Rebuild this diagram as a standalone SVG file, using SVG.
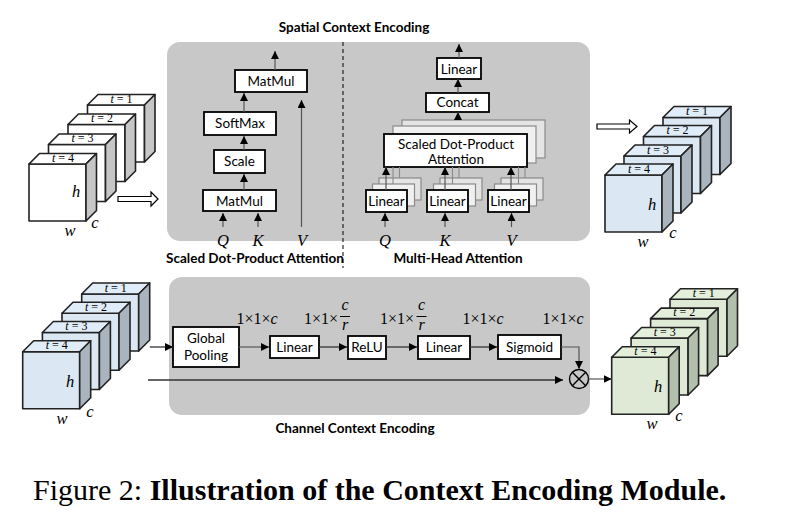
<svg xmlns="http://www.w3.org/2000/svg" width="791" height="514" viewBox="0 0 791 514">
<style>
.panel{fill:#c8c8c8;stroke:none}
.box{fill:#fff;stroke:#000;stroke-width:1.8}
.sh1{fill:#f0f0f0;stroke:#8a8a8a;stroke-width:1.2}
.sh2{fill:#e4e4e4;stroke:#8a8a8a;stroke-width:1.2}
.lbl{font-family:Lato,"Liberation Sans",sans-serif;font-size:13.5px;fill:#000;text-anchor:middle}
.ttl{font-family:Lato,"Liberation Sans",sans-serif;font-size:13.5px;font-weight:bold;fill:#000;text-anchor:middle}
.math{font-family:"Liberation Serif","DejaVu Serif",serif;font-style:italic;font-size:16.5px;fill:#000;text-anchor:middle}
.dim{font-family:"Liberation Serif","DejaVu Serif",serif;font-size:16px;fill:#000}
.tl{font-family:"Liberation Serif","DejaVu Serif",serif;font-size:12px;fill:#000;text-anchor:middle}
.cube{stroke:#222;stroke-width:1.6;stroke-linejoin:round}
.wF{fill:#fff}.wS{fill:#c6c6c6}
.bF{fill:#dbe8f4}.bT{fill:#e0ecf7}.bS{fill:#a9b4be}
.gF{fill:#deead6}.gT{fill:#e3eedb}.gS{fill:#b3bfad}
.ar{fill:none;stroke:#555;stroke-width:1.2;marker-end:url(#ah)}
.ard{fill:none;stroke:#333;stroke-width:1.3;marker-end:url(#ah)}
.gl{fill:none;stroke:#8a8a8a;stroke-width:1.1}
.hol{fill:#fff;stroke:#000;stroke-width:1.2}
</style>
<defs>
<marker id="ah" viewBox="0 0 10 10" refX="10" refY="5" markerWidth="8" markerHeight="8" markerUnits="userSpaceOnUse" orient="auto">
<path d="M0,0 L10,5 L0,10 z" fill="#000"/>
</marker>
</defs>

<!-- panels -->
<g id="spatial-panel">
<rect class="panel" x="167" y="42" width="423" height="199" rx="13"/>
<line x1="343" y1="42" x2="343" y2="268" stroke="#000" stroke-width="1" stroke-dasharray="4,3"/>
<text class="ttl" x="354" y="32">Spatial Context Encoding</text>
<text class="ttl" x="255" y="263">Scaled Dot-Product Attention</text>
<text class="ttl" x="458" y="263">Multi-Head Attention</text>
</g>
<g id="channel-panel">
<rect class="panel" x="169" y="277" width="421" height="138" rx="13"/>
<text class="ttl" x="355" y="433">Channel Context Encoding</text>
</g>

<!-- top-left input stack -->
<g id="input-stack-top" class="cube">
<g id="tl-t1"><rect class="wF" x="87.5" y="105" width="57" height="57"/><polygon class="wF" points="87.5,105 98,94.5 155,94.5 144.5,105"/><polygon class="wS" points="144.5,105 155,94.5 155,151.5 144.5,162"/></g>
<g id="tl-t2"><rect class="wF" x="68" y="124.5" width="57" height="57"/><polygon class="wF" points="68,124.5 78.5,114 135.5,114 125,124.5"/><polygon class="wS" points="125,124.5 135.5,114 135.5,171 125,181.5"/></g>
<g id="tl-t3"><rect class="wF" x="48.5" y="144.5" width="57" height="57"/><polygon class="wF" points="48.5,144.5 59,134 116,134 105.5,144.5"/><polygon class="wS" points="105.5,144.5 116,134 116,191 105.5,201.5"/></g>
<g id="tl-t4"><rect class="wF" x="29" y="164" width="57" height="57"/><polygon class="wF" points="29,164 39.5,153.5 96.5,153.5 86,164"/><polygon class="wS" points="86,164 96.5,153.5 96.5,210.5 86,221"/></g>
</g>
<g id="input-stack-top-labels">
<text class="tl" x="121.5" y="102.5"><tspan font-style="italic">t</tspan> = 1</text>
<text class="tl" x="102" y="122"><tspan font-style="italic">t</tspan> = 2</text>
<text class="tl" x="82.5" y="142"><tspan font-style="italic">t</tspan> = 3</text>
<text class="tl" x="63" y="161.5"><tspan font-style="italic">t</tspan> = 4</text>
<text class="math" x="76" y="197">h</text>
<text class="math" x="95" y="228">c</text>
<text class="math" x="70" y="236">w</text>
</g>
<polygon id="hollow-arrow-1" class="hol" points="118,196.5 151,196.5 151,192 158,199 151,206 151,201.5 118,201.5"/>

<!-- top-right output stack -->
<g id="output-stack-top" class="cube">
<g><rect class="bF" x="663" y="117.5" width="57" height="57"/><polygon class="bT" points="663,117.5 674,106.5 731,106.5 720,117.5"/><polygon class="bS" points="720,117.5 731,106.5 731,163.5 720,174.5"/></g>
<g><rect class="bF" x="643.5" y="136.5" width="57" height="57"/><polygon class="bT" points="643.5,136.5 654.5,125.5 711.5,125.5 700.5,136.5"/><polygon class="bS" points="700.5,136.5 711.5,125.5 711.5,182.5 700.5,193.5"/></g>
<g><rect class="bF" x="624" y="156" width="57" height="57"/><polygon class="bT" points="624,156 635,145 692,145 681,156"/><polygon class="bS" points="681,156 692,145 692,202 681,213"/></g>
<g><rect class="bF" x="605" y="175" width="57" height="57"/><polygon class="bT" points="605,175 616,164 673,164 662,175"/><polygon class="bS" points="662,175 673,164 673,221 662,232"/></g>
</g>
<g id="output-stack-top-labels">
<text class="tl" x="697" y="115"><tspan font-style="italic">t</tspan> = 1</text>
<text class="tl" x="677.5" y="134"><tspan font-style="italic">t</tspan> = 2</text>
<text class="tl" x="658" y="153.5"><tspan font-style="italic">t</tspan> = 3</text>
<text class="tl" x="639" y="172.5"><tspan font-style="italic">t</tspan> = 4</text>
<text class="math" x="652" y="210">h</text>
<text class="math" x="673" y="238">c</text>
<text class="math" x="643" y="247">w</text>
</g>
<polygon id="hollow-arrow-2" class="hol" points="597,124 629.5,124 629.5,120 637,126.5 629.5,133 629.5,129 597,129"/>

<!-- bottom-left input stack -->
<g id="input-stack-bottom" class="cube">
<g><rect class="bF" x="81.7" y="294" width="57" height="57"/><polygon class="bT" points="81.7,294 92.7,283 149.7,283 138.7,294"/><polygon class="bS" points="138.7,294 149.7,283 149.7,340 138.7,351"/></g>
<g><rect class="bF" x="62" y="313.2" width="57" height="57"/><polygon class="bT" points="62,313.2 73,302.2 130,302.2 119,313.2"/><polygon class="bS" points="119,313.2 130,302.2 130,359.2 119,370.2"/></g>
<g><rect class="bF" x="42.4" y="332.5" width="57" height="57"/><polygon class="bT" points="42.4,332.5 53.4,321.5 110.4,321.5 99.4,332.5"/><polygon class="bS" points="99.4,332.5 110.4,321.5 110.4,378.5 99.4,389.5"/></g>
<g><rect class="bF" x="22.7" y="351.7" width="57" height="57"/><polygon class="bT" points="22.7,351.7 33.7,340.7 90.7,340.7 79.7,351.7"/><polygon class="bS" points="79.7,351.7 90.7,340.7 90.7,397.7 79.7,408.7"/></g>
</g>
<g id="input-stack-bottom-labels">
<text class="tl" x="115.7" y="291.5"><tspan font-style="italic">t</tspan> = 1</text>
<text class="tl" x="96" y="310.7"><tspan font-style="italic">t</tspan> = 2</text>
<text class="tl" x="76.4" y="330"><tspan font-style="italic">t</tspan> = 3</text>
<text class="tl" x="56.7" y="349.2"><tspan font-style="italic">t</tspan> = 4</text>
<text class="math" x="70" y="387">h</text>
<text class="math" x="90" y="417">c</text>
<text class="math" x="62" y="424">w</text>
</g>

<!-- bottom-right output stack -->
<g id="output-stack-bottom" class="cube">
<g><rect class="gF" x="670" y="299.3" width="57" height="57"/><polygon class="gT" points="670,299.3 680.5,288.8 737.5,288.8 727,299.3"/><polygon class="gS" points="727,299.3 737.5,288.8 737.5,345.8 727,356.3"/></g>
<g><rect class="gF" x="650.6" y="318.6" width="57" height="57"/><polygon class="gT" points="650.6,318.6 661.1,308.1 718.1,308.1 707.6,318.6"/><polygon class="gS" points="707.6,318.6 718.1,308.1 718.1,365.1 707.6,375.6"/></g>
<g><rect class="gF" x="631.1" y="338" width="57" height="57"/><polygon class="gT" points="631.1,338 641.6,327.5 698.6,327.5 688.1,338"/><polygon class="gS" points="688.1,338 698.6,327.5 698.6,384.5 688.1,395"/></g>
<g><rect class="gF" x="611.7" y="357.3" width="57" height="57"/><polygon class="gT" points="611.7,357.3 622.2,346.8 679.2,346.8 668.7,357.3"/><polygon class="gS" points="668.7,357.3 679.2,346.8 679.2,403.8 668.7,414.3"/></g>
</g>
<g id="output-stack-bottom-labels">
<text class="tl" x="703.7" y="296.8"><tspan font-style="italic">t</tspan> = 1</text>
<text class="tl" x="684.3" y="316.1"><tspan font-style="italic">t</tspan> = 2</text>
<text class="tl" x="664.8" y="335.5"><tspan font-style="italic">t</tspan> = 3</text>
<text class="tl" x="645.4" y="354.8"><tspan font-style="italic">t</tspan> = 4</text>
<text class="math" x="658" y="392">h</text>
<text class="math" x="679" y="421">c</text>
<text class="math" x="652" y="429">w</text>
</g>

<!-- scaled dot-product attention nodes -->
<g id="sdpa-matmul-top"><rect class="box" x="235" y="70" width="72" height="22"/><text class="lbl" x="271" y="86">MatMul</text></g>
<g id="sdpa-softmax"><rect class="box" x="204" y="112" width="72" height="23"/><text class="lbl" x="240" y="128">SoftMax</text></g>
<g id="sdpa-scale"><rect class="box" x="214" y="150" width="51" height="23"/><text class="lbl" x="239.5" y="166">Scale</text></g>
<g id="sdpa-matmul-bottom"><rect class="box" x="203" y="190" width="73" height="21"/><text class="lbl" x="239.5" y="205.5">MatMul</text></g>
<g id="sdpa-inputs">
<text class="math" x="223" y="246">Q</text>
<text class="math" x="258" y="246">K</text>
<text class="math" x="302" y="246">V</text>
</g>

<!-- multi-head attention nodes -->
<g id="mha-linear-top"><rect class="box" x="437" y="58" width="44" height="21"/><text class="lbl" x="459" y="73.5">Linear</text></g>
<g id="mha-concat"><rect class="box" x="426" y="93" width="63" height="19"/><text class="lbl" x="457.5" y="107">Concat</text></g>
<g id="mha-sdpa">
<rect class="sh2" x="402" y="120" width="143" height="38"/>
<rect class="sh1" x="393" y="126" width="143" height="37"/>
<rect class="box" x="384" y="134" width="143" height="33"/>
<text class="lbl" x="456" y="148.5">Scaled Dot-Product</text>
<text class="lbl" x="456" y="164">Attention</text>
</g>
<g id="mha-linear-q">
<rect class="sh2" x="379" y="178" width="42" height="22"/>
<rect class="sh1" x="372.5" y="184" width="42" height="22"/>
<rect class="box" x="366" y="190" width="41" height="22"/>
<text class="lbl" x="386.5" y="206">Linear</text>
</g>
<g id="mha-linear-k">
<rect class="sh2" x="440" y="178" width="42" height="22"/>
<rect class="sh1" x="433.5" y="184" width="42" height="22"/>
<rect class="box" x="427" y="190" width="41" height="22"/>
<text class="lbl" x="447.5" y="206">Linear</text>
</g>
<g id="mha-linear-v">
<rect class="sh2" x="501" y="178" width="42" height="22"/>
<rect class="sh1" x="494.5" y="184" width="42" height="22"/>
<rect class="box" x="488" y="190" width="41" height="22"/>
<text class="lbl" x="508.5" y="206">Linear</text>
</g>
<g id="mha-inputs">
<text class="math" x="385" y="246">Q</text>
<text class="math" x="445" y="246">K</text>
<text class="math" x="511.5" y="246">V</text>
</g>

<!-- channel context encoding nodes -->
<g id="cce-pool"><rect class="box" x="173" y="327" width="66" height="40"/><text class="lbl" x="206" y="343">Global</text><text class="lbl" x="206" y="360">Pooling</text></g>
<g id="cce-linear1"><rect class="box" x="270" y="336" width="49" height="22"/><text class="lbl" x="294.5" y="352">Linear</text></g>
<g id="cce-relu"><rect class="box" x="348" y="336" width="38" height="23"/><text class="lbl" x="367" y="352">ReLU</text></g>
<g id="cce-linear2"><rect class="box" x="418" y="336" width="52" height="23"/><text class="lbl" x="444" y="352">Linear</text></g>
<g id="cce-sigmoid"><rect class="box" x="498" y="335" width="63" height="24"/><text class="lbl" x="529.5" y="352">Sigmoid</text></g>
<g id="cce-mul">
<circle cx="579" cy="379" r="9.5" fill="none" stroke="#000" stroke-width="1.4"/>
<line x1="572.3" y1="372.3" x2="585.7" y2="385.7" stroke="#000" stroke-width="1.4"/>
<line x1="585.7" y1="372.3" x2="572.3" y2="385.7" stroke="#000" stroke-width="1.4"/>
</g>
<g id="cce-dims">
<text class="dim" x="257" y="324" text-anchor="middle">1×1×<tspan font-style="italic">c</tspan></text>
<text class="dim" x="338" y="324" text-anchor="end">1×1×</text>
<text class="dim" x="345" y="310" text-anchor="middle" font-style="italic">c</text>
<line x1="340" y1="316.5" x2="350" y2="316.5" stroke="#000" stroke-width="1"/>
<text class="dim" x="345" y="330" text-anchor="middle" font-style="italic">r</text>
<text class="dim" x="414" y="324" text-anchor="end">1×1×</text>
<text class="dim" x="421.5" y="310" text-anchor="middle" font-style="italic">c</text>
<line x1="416.5" y1="316.5" x2="426.5" y2="316.5" stroke="#000" stroke-width="1"/>
<text class="dim" x="421.5" y="330" text-anchor="middle" font-style="italic">r</text>
<text class="dim" x="483" y="324" text-anchor="middle">1×1×<tspan font-style="italic">c</tspan></text>
<text class="dim" x="563" y="324" text-anchor="middle">1×1×<tspan font-style="italic">c</tspan></text>
</g>

<!-- connectors -->
<g id="connectors">
<line class="ar" x1="275" y1="70" x2="275" y2="51"/>
<line class="ar" x1="244" y1="112" x2="244" y2="93"/>
<line class="ar" x1="244" y1="150" x2="244" y2="136"/>
<line class="ar" x1="244" y1="190" x2="244" y2="174"/>
<line class="ar" x1="223" y1="227" x2="223" y2="213"/>
<line class="ar" x1="258" y1="227" x2="258" y2="213"/>
<line class="ar" x1="301.5" y1="227" x2="301.5" y2="100"/>

<line class="ar" x1="459" y1="58" x2="459" y2="44"/>
<line class="ar" x1="458" y1="93" x2="458" y2="79"/>
<line class="ar" x1="458" y1="120" x2="458" y2="112"/>
<line class="gl" x1="393" y1="184" x2="393" y2="167"/>
<line class="gl" x1="399.5" y1="178" x2="399.5" y2="167"/>
<line class="gl" x1="452.5" y1="184" x2="452.5" y2="167"/>
<line class="gl" x1="459" y1="178" x2="459" y2="167"/>
<line class="gl" x1="518.5" y1="184" x2="518.5" y2="167"/>
<line class="gl" x1="525" y1="178" x2="525" y2="167"/>
<line class="ar" x1="386" y1="190" x2="386" y2="167"/>
<line class="ar" x1="445" y1="190" x2="445" y2="167"/>
<line class="ar" x1="511" y1="190" x2="511" y2="167"/>
<line class="ar" x1="385" y1="227" x2="385" y2="213"/>
<line class="ar" x1="445" y1="227" x2="445" y2="213"/>
<line class="ar" x1="511.5" y1="227" x2="511.5" y2="213"/>

<line class="ard" x1="149.7" y1="347" x2="173" y2="347"/>
<line class="ar" x1="239" y1="347" x2="269" y2="347"/>
<line class="ard" x1="319" y1="347" x2="347" y2="347"/>
<line class="ard" x1="386" y1="347" x2="417" y2="347"/>
<line class="ard" x1="470" y1="347" x2="497" y2="347"/>
<polyline class="ar" points="561,347 579,347 579,369"/>
<line class="ard" x1="148" y1="380" x2="563" y2="380"/>
<line class="ar" x1="588.5" y1="379" x2="611.7" y2="379"/>
</g>

<text id="caption" x="33" y="500" font-family="'Liberation Serif','Times New Roman',serif" font-size="30" fill="#000">Figure 2: <tspan font-weight="bold">Illustration of the Context Encoding Module.</tspan></text>
</svg>
